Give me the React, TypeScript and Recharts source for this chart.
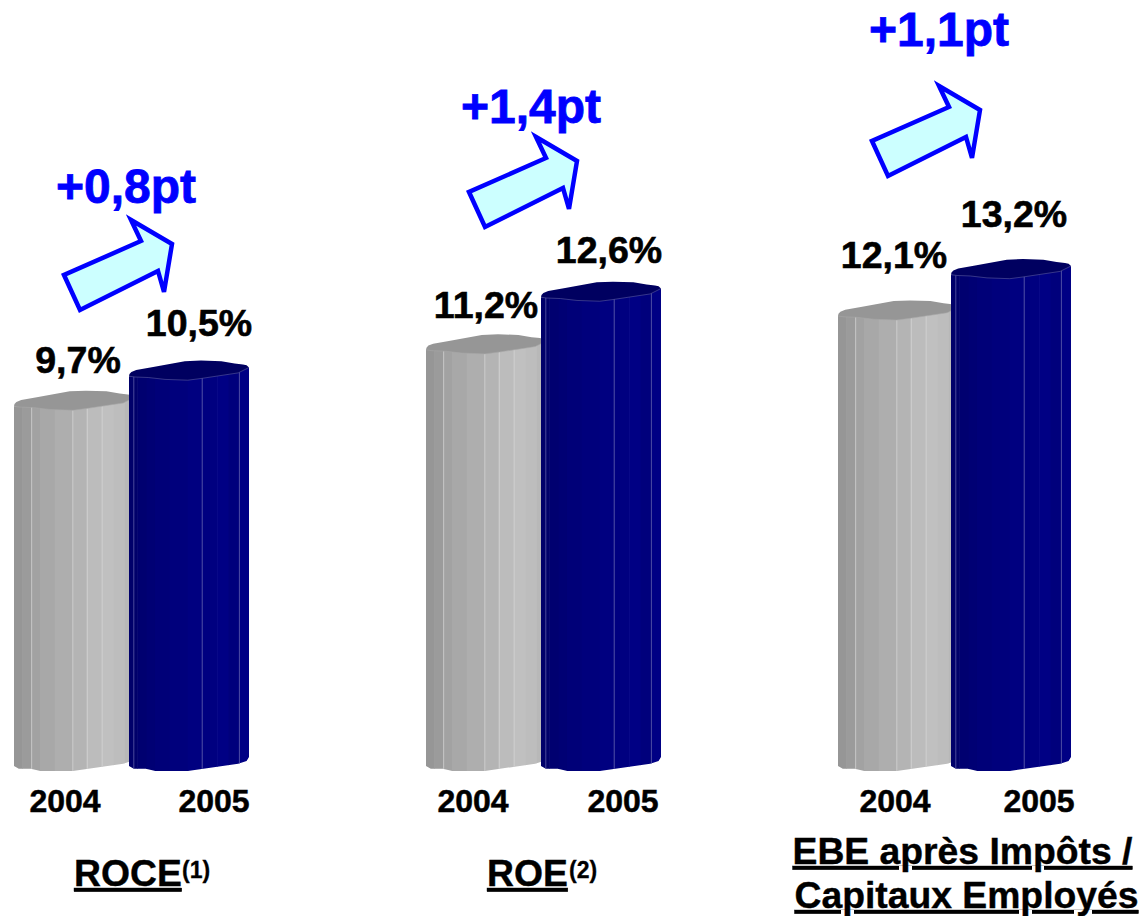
import React, { useId } from 'react'
import { BarChart, Bar, XAxis, YAxis, LabelList } from 'recharts'

const years = ['2004', '2005']
const roceValues = [9.7, 10.5]
const roeValues = [11.2, 12.6]
const ebeValues = [12.1, 13.2]

const FONT = '"Liberation Sans", Arial, sans-serif'
const BLUE = '#0000ff'
const CYL_W = 120
const SIDE = 20

// chart layout, one entry per group of bars
const panels = [
  { values: roceValues, left: 14, band: 115, labelDx: [4, 10], labelDy: [33, 40], tickDx: [-6.5, 27.5] },
  { values: roeValues, left: 426, band: 115, labelDx: [0, 8], labelDy: [32, 34], tickDx: [-10.5, 24.5] },
  { values: ebeValues, left: 838, band: 113, labelDx: [-4, 3], labelDy: [48, 48], tickDx: [0.5, 31.5] },
]

const arrowShape = [[64, 275], [80, 310], [158, 271], [164, 292], [172, 244], [131, 220], [141, 241]]
const arrowOffsets = [[0, 0], [405, -83], [808, -134]]

const deltas = [
  { text: '+0,8pt', x: 126, y: 203 },
  { text: '+1,4pt', x: 531, y: 123 },
  { text: '+1,1pt', x: 939, y: 46 },
]

// outline of the cylinder, x as a share of the width, y in px from the top / bottom of the bar
const capTop = [[0, 0], [0.004, -2.2], [0.02, -4.3], [0.06, -6.2], [0.19, -9], [0.465, -15], [0.6, -15.6], [0.77, -15], [0.88, -12.7], [0.95, -11.8], [0.98, -11], [1, -8.7]]
const capLower = [[1, -8.7], [0.91, -3.3], [0.6, 2.3], [0.49, 4], [0.3, 3.2], [0.16, 1.3], [0.05, 0.8], [0, 0]]
const foot = [[1, -14], [0.99, -12], [0.98, -10], [0.91, -7.3], [0.49, 0], [0.22, 0], [0.14, -2.3], [0.04, -2.3], [0, -5]]

const stripStops = [0, 0.07, 0.147, 0.216, 0.34, 0.49, 0.61, 0.734, 0.83, 0.92, 1]
const greyStrips = ['#969696', '#9b9b9b', '#a2a2a2', '#a8a8a8', '#aeaeae', '#b4b4b4', '#bcbcbc', '#c0c0c0', '#bdbdbd', '#b8b8b8']
const navyStrips = ['#00006a', '#000070', '#000074', '#000078', '#00007c', '#000080', '#000080', '#000084', '#00007c', '#000084']

const Cylinder = (props: any) => {
  const { x, y, height, index } = props
  const clipId = useId()
  const w = CYL_W
  const bottom = y + height
  const grey = index === 0
  const strips = grey ? greyStrips : navyStrips
  const lineColor = grey ? '#d8d8d8' : '#6a6ab0'
  const pts = (list: number[][], base: number) => list.map(([fx, dy]) => `${x + fx * w},${base + dy}`).join(' ')
  const body = `${pts([[0, 0], [1, -8.7]], y)} ${pts(foot, bottom)}`
  const lines = grey ? [0.147, 0.49, 0.61, 0.734] : [0.04, 0.61, 0.92]

  return (
    <g>
      <clipPath id={clipId}>
        <polygon points={body} />
      </clipPath>
      <g clipPath={`url(#${clipId})`}>
        {strips.map((c, i) => (
          <rect
            key={i}
            x={x + stripStops[i] * w}
            y={y - 20}
            width={(stripStops[i + 1] - stripStops[i]) * w + 0.5}
            height={height + 20}
            fill={c}
          />
        ))}
        {lines.map((f) => (
          <line key={f} x1={x + f * w} x2={x + f * w} y1={y - 20} y2={bottom} stroke={lineColor} strokeWidth={0.7} />
        ))}
      </g>
      <polygon points={`${pts(capTop, y)} ${pts(capLower, y)}`} fill={grey ? '#969696' : '#000060'} />
      <polyline points={pts(capLower, y)} fill="none" stroke={grey ? '#a8a8a8' : '#5a5aa0'} strokeWidth={0.6} />
    </g>
  )
}

const formatPct = (v: number) => `${v.toFixed(1).replace('.', ',')}%`

const makeLabel = (panel: any) => (props: any) => {
  const { x, y, value, index } = props
  return (
    <text
      x={x + CYL_W / 2 + panel.labelDx[index]}
      y={y - panel.labelDy[index]}
      textAnchor="middle"
      fontFamily={FONT}
      fontWeight="bold"
      fontSize={37.5}
      fill="#000"
      stroke="#000"
      strokeWidth={0.6}
    >
      {formatPct(value)}
    </text>
  )
}

const makeTick = (panel: any) => (props: any) => {
  const { x, y, payload, index } = props
  return (
    <text
      x={x + panel.tickDx[index]}
      y={y + 33}
      textAnchor="middle"
      fontFamily={FONT}
      fontWeight="bold"
      fontSize={32}
      fill="#000"
      stroke="#000"
      strokeWidth={0.5}
    >
      {payload.value}
    </text>
  )
}

const Panel = ({ panel }: { panel: any }) => {
  const data = years.map((year, i) => ({ year, value: panel.values[i] }))
  return (
    <div style={{ position: 'absolute', left: panel.left - SIDE, top: 19 }}>
      <BarChart
        width={panel.band * 2 + SIDE * 2}
        height={812}
        data={data}
        margin={{ top: 0, right: SIDE, bottom: 0, left: SIDE }}
        barCategoryGap={0}
      >
        <XAxis dataKey="year" height={60} axisLine={false} tickLine={false} interval={0} tick={makeTick(panel)} />
        <YAxis hide domain={[0, 20]} />
        <Bar dataKey="value" isAnimationActive={false} shape={<Cylinder />}>
          <LabelList dataKey="value" content={makeLabel(panel)} />
        </Bar>
      </BarChart>
    </div>
  )
}

const Title = ({ x, y, text, anchor = 'start' }: { x: number; y: number; text: string; anchor?: string }) => (
  <text
    x={x}
    y={y}
    textAnchor={anchor as any}
    fontFamily={FONT}
    fontWeight="bold"
    fontSize={37.3}
    fill="#000"
    stroke="#000"
    strokeWidth={0.4}
    style={{ textDecoration: 'underline' }}
  >
    {text}
  </text>
)

const Sup = ({ x, text }: { x: number; text: string }) => (
  <text x={x} y={878} fontFamily={FONT} fontWeight="bold" fontSize={23} fill="#000" stroke="#000" strokeWidth={0.3}>
    {text}
  </text>
)

export default function App() {
  return (
    <div style={{ position: 'absolute', left: 0, top: 0, width: 1140, height: 916, overflow: 'hidden', background: '#fff' }}>
      {panels.map((panel) => (
        <Panel key={panel.left} panel={panel} />
      ))}
      <svg width={1140} height={916} style={{ position: 'absolute', left: 0, top: 0, pointerEvents: 'none' }}>
        {arrowOffsets.map(([dx, dy]) => (
          <polygon
            key={dx}
            points={arrowShape.map(([px, py]) => `${px + dx},${py + dy}`).join(' ')}
            fill="#ccffff"
            stroke={BLUE}
            strokeWidth={4.5}
          />
        ))}
        {deltas.map((d) => (
          <text key={d.text} x={d.x} y={d.y} textAnchor="middle" fontFamily={FONT} fontWeight="bold" fontSize={48} fill={BLUE} stroke={BLUE} strokeWidth={0.8}>
            {d.text}
          </text>
        ))}
        <Title x={74} y={886} text="ROCE" />
        <Sup x={182} text="(1)" />
        <Title x={487} y={886} text="ROE" />
        <Sup x={569} text="(2)" />
        <Title x={962.5} y={864} text="EBE après Impôts /" anchor="middle" />
        <Title x={966.5} y={908} text="Capitaux Employés" anchor="middle" />
      </svg>
    </div>
  )
}
